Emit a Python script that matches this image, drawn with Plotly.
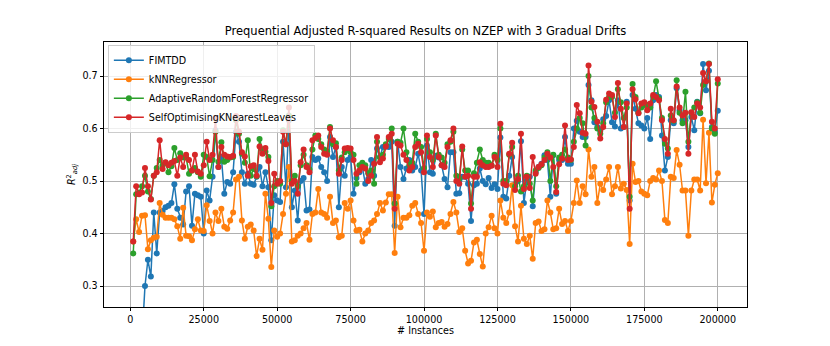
import plotly.graph_objects as go

# x positions: every 1000 instances
instances = list(range(1000, 200001, 1000))

fimtdd = [
    -1.2, -0.3, 0.05, 0.2, 0.30, 0.35, 0.318, 0.44, 0.362, 0.44,
    0.443, 0.45, 0.453, 0.458, 0.494, 0.447, 0.43, 0.417, 0.48, 0.49,
    0.415, 0.476, 0.473, 0.47, 0.40, 0.482, 0.463, 0.508, 0.597, 0.527,
    0.546, 0.476, 0.498, 0.495, 0.517, 0.594, 0.575, 0.517, 0.495, 0.514,
    0.495, 0.493, 0.508, 0.527, 0.49, 0.517, 0.488, 0.387, 0.473, 0.463,
    0.46, 0.575, 0.488, 0.616, 0.45, 0.482, 0.425, 0.50, 0.506, 0.444,
    0.446, 0.546, 0.54, 0.543, 0.527, 0.517, 0.50, 0.584, 0.546, 0.565,
    0.45, 0.527, 0.51, 0.54, 0.546, 0.476, 0.506, 0.517, 0.527, 0.495,
    0.504, 0.54, 0.51, 0.562, 0.546, 0.565, 0.566, 0.565, 0.575, 0.415,
    0.575, 0.527, 0.504, 0.524, 0.54, 0.52, 0.527, 0.552, 0.52, 0.437,
    0.568, 0.517, 0.514, 0.548, 0.545, 0.53, 0.504, 0.488, 0.555, 0.555,
    0.476, 0.477, 0.508, 0.508, 0.495, 0.424, 0.492, 0.495, 0.524, 0.50,
    0.494, 0.506, 0.487, 0.494, 0.485, 0.583, 0.47, 0.467, 0.51, 0.546,
    0.494, 0.50, 0.576, 0.458, 0.502, 0.508, 0.452, 0.517, 0.527, 0.533,
    0.549, 0.54, 0.47, 0.549, 0.476, 0.54, 0.54, 0.584, 0.533, 0.533,
    0.60, 0.615, 0.594, 0.584, 0.584, 0.683, 0.654, 0.612, 0.603, 0.596,
    0.618, 0.624, 0.654, 0.612, 0.604, 0.654, 0.60, 0.603, 0.651, 0.463,
    0.664, 0.638, 0.61, 0.606, 0.60, 0.62, 0.58, 0.654, 0.664, 0.66,
    0.587, 0.52, 0.546, 0.616, 0.61, 0.677, 0.635, 0.616, 0.616, 0.565,
    0.622, 0.597, 0.651, 0.629, 0.723, 0.673, 0.71, 0.603, 0.594, 0.634,
]

knn = [
    0.385, 0.427, 0.403, 0.434, 0.435, 0.37, 0.387, 0.392, 0.394, 0.458,
    0.436, 0.43, 0.43, 0.43, 0.427, 0.414, 0.39, 0.449, 0.396, 0.395,
    0.387, 0.408, 0.427, 0.406, 0.405, 0.454, 0.424, 0.40, 0.44, 0.424,
    0.447, 0.413, 0.409, 0.425, 0.44, 0.503, 0.508, 0.425, 0.39, 0.413,
    0.417, 0.406, 0.357, 0.39, 0.369, 0.476, 0.428, 0.336, 0.406, 0.394,
    0.40, 0.437, 0.476, 0.527, 0.385, 0.387, 0.396, 0.40, 0.41, 0.42,
    0.388, 0.437, 0.44, 0.485, 0.44, 0.437, 0.43, 0.47, 0.42, 0.425,
    0.393, 0.396, 0.458, 0.447, 0.463, 0.425, 0.406, 0.407, 0.385, 0.40,
    0.406, 0.42, 0.425, 0.437, 0.458, 0.444, 0.459, 0.475, 0.475, 0.363,
    0.47, 0.412, 0.43, 0.43, 0.435, 0.453, 0.458, 0.437, 0.42, 0.367,
    0.44, 0.432, 0.442, 0.412, 0.42, 0.422, 0.413, 0.418, 0.437, 0.46,
    0.44, 0.403, 0.41, 0.367, 0.343, 0.348, 0.383, 0.388, 0.361, 0.337,
    0.40, 0.412, 0.434, 0.41, 0.40, 0.463, 0.43, 0.42, 0.44, 0.492,
    0.414, 0.385, 0.453, 0.39, 0.38, 0.396, 0.352, 0.42, 0.423, 0.405,
    0.408, 0.463, 0.44, 0.408, 0.41, 0.447, 0.418, 0.424, 0.405, 0.424,
    0.458, 0.501, 0.458, 0.49, 0.475, 0.56, 0.508, 0.527, 0.458, 0.495,
    0.483, 0.503, 0.527, 0.475, 0.49, 0.527, 0.486, 0.495, 0.483, 0.38,
    0.533, 0.498, 0.50, 0.48, 0.476, 0.473, 0.50, 0.506, 0.503, 0.52,
    0.50, 0.426, 0.42, 0.508, 0.506, 0.559, 0.531, 0.482, 0.482, 0.396,
    0.482, 0.503, 0.503, 0.482, 0.617, 0.496, 0.592, 0.459, 0.493, 0.515,
]

arf = [
    0.362, 0.475, 0.478, 0.49, 0.51, 0.48, 0.466, 0.51, 0.525, 0.54,
    0.53, 0.535, 0.517, 0.528, 0.563, 0.54, 0.553, 0.545, 0.545, 0.514,
    0.52, 0.525, 0.517, 0.508, 0.55, 0.546, 0.509, 0.54, 0.594, 0.537,
    0.574, 0.537, 0.54, 0.545, 0.546, 0.616, 0.59, 0.552, 0.535, 0.578,
    0.51, 0.523, 0.509, 0.58, 0.56, 0.556, 0.546, 0.452, 0.49, 0.50,
    0.495, 0.597, 0.57, 0.625, 0.50, 0.51, 0.49, 0.53, 0.55, 0.53,
    0.522, 0.56, 0.587, 0.58, 0.57, 0.56, 0.557, 0.603, 0.57, 0.572,
    0.52, 0.545, 0.555, 0.56, 0.555, 0.55, 0.495, 0.53, 0.535, 0.53,
    0.515, 0.52, 0.495, 0.575, 0.545, 0.55, 0.57, 0.58, 0.60, 0.457,
    0.575, 0.573, 0.60, 0.555, 0.53, 0.535, 0.59, 0.575, 0.565, 0.525,
    0.58, 0.555, 0.54, 0.59, 0.55, 0.545, 0.535, 0.57, 0.575, 0.594,
    0.51, 0.505, 0.56, 0.52, 0.52, 0.457, 0.515, 0.535, 0.56, 0.54,
    0.535, 0.535, 0.53, 0.55, 0.54, 0.60, 0.50, 0.50, 0.55, 0.565,
    0.49, 0.51, 0.48, 0.49, 0.51, 0.495, 0.463, 0.52, 0.525, 0.53,
    0.545, 0.555, 0.50, 0.55, 0.49, 0.545, 0.55, 0.56, 0.545, 0.54,
    0.575, 0.60, 0.62, 0.61, 0.568, 0.70, 0.64, 0.62, 0.60, 0.59,
    0.61, 0.65, 0.66, 0.66, 0.63, 0.675, 0.65, 0.62, 0.64, 0.47,
    0.685, 0.66, 0.63, 0.64, 0.645, 0.645, 0.64, 0.66, 0.69, 0.657,
    0.62, 0.571, 0.562, 0.625, 0.615, 0.692, 0.63, 0.61, 0.67, 0.575,
    0.63, 0.64, 0.65, 0.63, 0.683, 0.69, 0.724, 0.60, 0.59, 0.686,
]

soknl = [
    0.385, 0.49, 0.475, 0.478, 0.525, 0.49, 0.465, 0.51, 0.517, 0.578,
    0.523, 0.536, 0.53, 0.535, 0.538, 0.51, 0.545, 0.527, 0.55, 0.54,
    0.52, 0.55, 0.518, 0.514, 0.53, 0.575, 0.54, 0.55, 0.62, 0.527,
    0.565, 0.55, 0.547, 0.546, 0.548, 0.624, 0.594, 0.555, 0.547, 0.51,
    0.528, 0.53, 0.51, 0.566, 0.552, 0.563, 0.538, 0.458, 0.514, 0.495,
    0.50, 0.594, 0.57, 0.64, 0.495, 0.50, 0.476, 0.536, 0.56, 0.527,
    0.517, 0.578, 0.582, 0.587, 0.565, 0.552, 0.55, 0.60, 0.578, 0.565,
    0.514, 0.54, 0.562, 0.563, 0.562, 0.54, 0.514, 0.52, 0.527, 0.524,
    0.50, 0.51, 0.533, 0.584, 0.536, 0.543, 0.566, 0.584, 0.59, 0.447,
    0.571, 0.568, 0.55, 0.54, 0.52, 0.527, 0.565, 0.571, 0.555, 0.517,
    0.587, 0.546, 0.527, 0.587, 0.546, 0.53, 0.527, 0.565, 0.578, 0.60,
    0.50, 0.495, 0.566, 0.508, 0.51, 0.447, 0.508, 0.508, 0.536, 0.53,
    0.527, 0.527, 0.529, 0.546, 0.527, 0.609, 0.495, 0.492, 0.552, 0.573,
    0.483, 0.504, 0.59, 0.485, 0.508, 0.487, 0.546, 0.514, 0.527, 0.532,
    0.54, 0.552, 0.545, 0.527, 0.479, 0.532, 0.543, 0.606, 0.54, 0.541,
    0.565, 0.645, 0.629, 0.592, 0.59, 0.72, 0.651, 0.641, 0.613, 0.581,
    0.603, 0.655, 0.667, 0.664, 0.622, 0.687, 0.638, 0.603, 0.648, 0.447,
    0.675, 0.656, 0.629, 0.648, 0.65, 0.635, 0.648, 0.664, 0.66, 0.654,
    0.616, 0.58, 0.552, 0.638, 0.616, 0.68, 0.64, 0.625, 0.63, 0.552,
    0.631, 0.622, 0.648, 0.64, 0.706, 0.69, 0.723, 0.613, 0.60, 0.694,
]

series = [
    ("FIMTDD", fimtdd, "#1f77b4"),
    ("kNNRegressor", knn, "#ff7f0e"),
    ("AdaptiveRandomForestRegressor", arf, "#2ca02c"),
    ("SelfOptimisingKNearestLeaves", soknl, "#d62728"),
]

x_ticks = [0, 25000, 50000, 75000, 100000, 125000, 150000, 175000, 200000]
y_ticks = [0.3, 0.4, 0.5, 0.6, 0.7]

fig = go.Figure()
for name, vals, color in series:
    fig.add_trace(go.Scatter(
        x=instances, y=vals, name=name, mode="lines+markers",
        line=dict(color=color, width=1.5),
        marker=dict(color=color, size=6),
    ))

axis_common = dict(
    showline=True, linecolor="black", linewidth=0.8, mirror=True,
    ticks="outside", ticklen=3.5, tickcolor="black", tickwidth=0.8,
    showgrid=True, gridcolor="#b0b0b0", gridwidth=0.8, zeroline=False,
    tickfont=dict(size=9.6, color="black"), automargin=False,
)

fig.update_xaxes(
    range=[-8950, 209950], tickvals=x_ticks, ticktext=[str(t) for t in x_ticks],
    title=dict(text="# Instances", font=dict(size=9.6, color="black"), standoff=3),
    **axis_common,
)
fig.update_yaxes(
    range=[0.26, 0.765], tickvals=y_ticks, ticktext=[f"{t:.1f}" for t in y_ticks],
    title=dict(text="<i>R</i><sup>2</sup><sub><i>adj</i></sub>", font=dict(size=9.6, color="black"), standoff=5),
    **axis_common,
)

fig.update_layout(
    width=830, height=346,
    margin=dict(l=104, r=83, t=42, b=39),
    paper_bgcolor="white", plot_bgcolor="white",
    font=dict(family="DejaVu Sans", color="black"),
    title=dict(
        text="Prequential Adjusted R-squared Results on NZEP with 3 Gradual Drifts",
        x=0.5, xref="paper", xanchor="center", y=0.9, yanchor="bottom",
        font=dict(size=11.5, color="black"),
    ),
    legend=dict(
        x=0.006, y=0.99, xanchor="left", yanchor="top",
        bgcolor="rgba(255,255,255,0.8)", bordercolor="#cccccc", borderwidth=1,
        font=dict(size=9.6, color="black"), itemwidth=30, tracegroupgap=0,
    ),
    showlegend=True,
)

# remove the default page margin so the figure sits at the window origin
fig.write_html(
    "out.html",
    config={"displayModeBar": False},
    post_script="document.body.style.margin='0';",
)
